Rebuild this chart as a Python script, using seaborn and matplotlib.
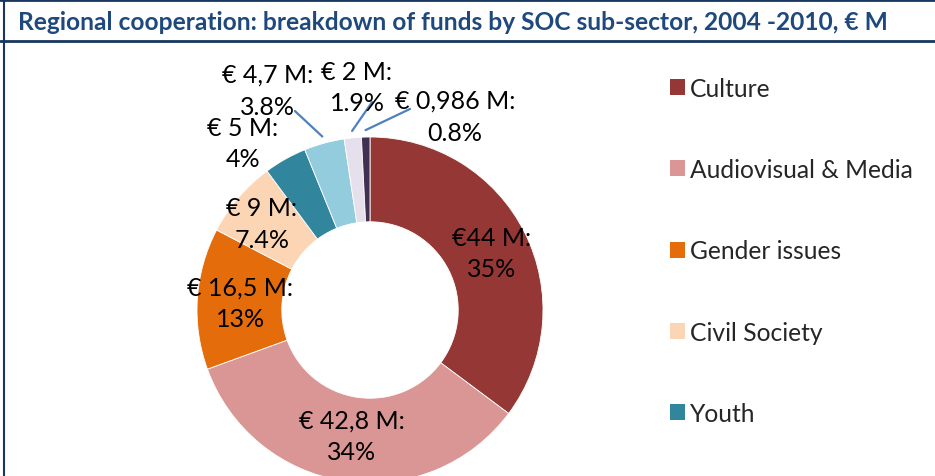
import matplotlib
matplotlib.use("Agg")
import matplotlib.pyplot as plt
from matplotlib.patches import Patch
from matplotlib.lines import Line2D
import numpy as np
import seaborn as sns

# Funds per SOC sub-sector, 2004-2010 (EUR million)
sectors = ["Culture", "Audiovisual & Media", "Gender issues", "Civil Society",
           "Youth", "Other 1", "Other 2", "Other 3"]
funds = [44, 42.8, 16.5, 9, 5, 4.7, 2, 0.986]
amount_text = ["€44 M:", "€ 42,8 M:", "€ 16,5 M:", "€ 9 M:", "€ 5 M:",
               "€ 4,7 M:", "€ 2 M:", "€ 0,986 M:"]
share_text = ["35%", "34%", "13%", "7.4%", "4%", "3.8%", "1.9%", "0.8%"]
legend_sectors = sectors[:5]

colors = sns.color_palette(["#953735", "#D99694", "#E46C0A", "#FCD5B5",
                            "#31859C", "#93CDDD", "#E6E0EC", "#403152"])

sns.set_theme(style="white")
plt.rcParams["font.family"] = ["Lato", "DejaVu Sans"]

W, H = 935, 477
fig = plt.figure(figsize=(W / 100, H / 100), dpi=100)

# donut geometry in pixels
cx, cy, R = 370, 311, 173
ax = fig.add_axes([(cx - R) / W, (H - cy - R) / H, 2 * R / W, 2 * R / H])
wedges, _ = ax.pie(funds, colors=colors, startangle=90, counterclock=False,
                   radius=1.0, wedgeprops=dict(width=0.49, edgecolor="white",
                                               linewidth=0.6))
ax.set_xlim(-1, 1)
ax.set_ylim(-1, 1)
ax.set_aspect("equal")
ax.axis("off")

# label block centres (axes data units) and leader anchors near the text
label_pos = [(0.705, 0.33), (-0.104, -0.725), (-0.751, 0.04), (-0.624, 0.50),
             (-0.734, 0.965), (-0.590, 1.27), (-0.075, 1.29), (0.491, 1.12)]
leader_end = {5: (-0.434, 1.150), 6: (0.012, 1.202), 7: (0.231, 1.162)}

for i, w in enumerate(wedges):
    x, y = label_pos[i]
    ax.text(x, y, f"{amount_text[i]}\n{share_text[i]}", ha="center",
            va="center", fontsize=18, color="black", linespacing=1.45,
            clip_on=False)
    if i in leader_end:
        mid = np.deg2rad((w.theta1 + w.theta2) / 2)
        x0, y0 = 1.04 * np.cos(mid), 1.04 * np.sin(mid)
        x1, y1 = leader_end[i]
        ax.plot([x0, x1], [y0, y1], color="#4F81BD", lw=1.6, clip_on=False)

handles = [Patch(facecolor=colors[i], edgecolor="none") for i in range(5)]
fig.legend(handles, legend_sectors, loc="upper left",
           bbox_to_anchor=(660 / W, 1 - 68 / H), frameon=False,
           fontsize=17.7, handlelength=0.62, handleheight=0.62,
           handletextpad=0.2, labelspacing=2.37, borderaxespad=0)

# title, fitted to the header band
title = fig.text(18 / W, 1 - 23 / H,
                 "Regional cooperation: breakdown of funds by SOC sub-sector, 2004 -2010, € M",
                 ha="left", va="center", fontsize=15, fontweight="bold",
                 color="#1F497D")
fig.canvas.draw()
bb = title.get_window_extent()
title.set_fontsize(15 * 870 / bb.width)

# frame lines
navy = "#17375E"
fig.add_artist(Line2D([0, 1], [1 - 1 / H, 1 - 1 / H], color=navy, lw=2,
                      transform=fig.transFigure))
fig.add_artist(Line2D([0, 1], [1 - 42 / H, 1 - 42 / H], color=navy, lw=2,
                      transform=fig.transFigure))
fig.add_artist(Line2D([4 / W, 4 / W], [0, 1], color=navy, lw=1.5,
                      transform=fig.transFigure))

fig.savefig("out.png", dpi=100)
